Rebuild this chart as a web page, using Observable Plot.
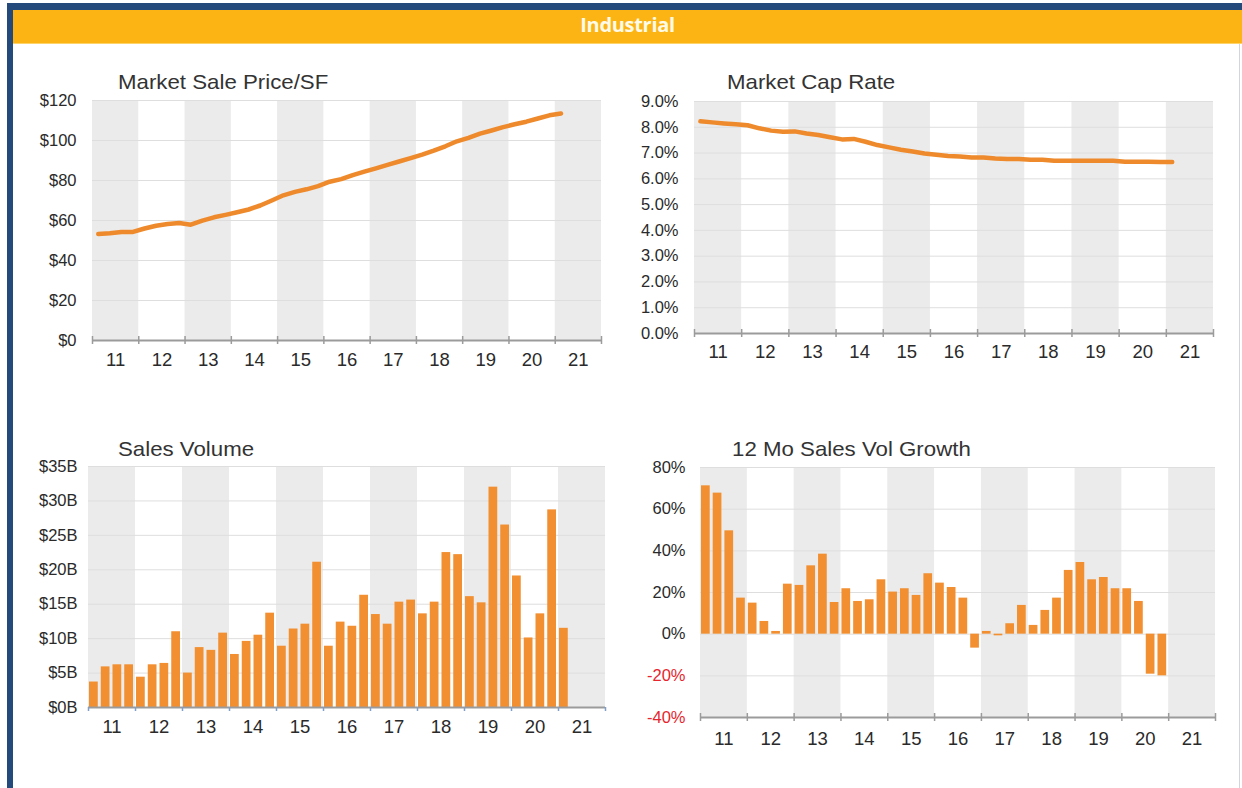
<!DOCTYPE html>
<html>
<head>
<meta charset="utf-8">
<script src="https://cdn.jsdelivr.net/npm/d3@7"></script>
<script src="https://cdn.jsdelivr.net/npm/@observablehq/plot@0.6"></script>
<style>
  body { margin: 0; background: #fff; }
  #page { position: relative; width: 1242px; height: 788px; overflow: hidden; background: #fff;
          font-family: "Liberation Sans", Arial, sans-serif; }
  .frameL { position: absolute; left: 7px; top: 3px; width: 6px; height: 785px; background: #24497b; }
  .frameT { position: absolute; left: 7px; top: 3px; width: 1235px; height: 7px; background: #24497b; }
  .frameR { position: absolute; left: 1239px; top: 44px; width: 1px; height: 744px; background: #cfd6e0; }
  .header { position: absolute; left: 13px; top: 10px; width: 1229px; height: 34px; background: #fcb415;
            border-bottom: 1px solid #fdd46a; box-sizing: border-box;
            color: #fffbe8; font: bold 20px "Open Sans", "DejaVu Sans", sans-serif; text-align: center; line-height: 30px;
            letter-spacing: -0.3px; }
  .title { position: absolute; font-size: 21px; color: #333; line-height: 24px; white-space: nowrap;
           transform: scaleX(1.06); transform-origin: left center; }
  .chart { position: absolute; }
</style>
</head>
<body>
<div id="page">
  <div class="frameT"></div>
  <div class="frameL"></div>
  <div class="frameR"></div>
  <div class="header">Industrial</div>
  <div class="title" style="left:118px;top:70px">Market Sale Price/SF</div>
  <div class="title" style="left:727px;top:70px">Market Cap Rate</div>
  <div class="title" style="left:118px;top:437px">Sales Volume</div>
  <div class="title" style="left:732px;top:437px">12 Mo Sales Vol Growth</div>
  <div id="c1" class="chart"></div>
  <div id="c2" class="chart"></div>
  <div id="c3" class="chart"></div>
  <div id="c4" class="chart"></div>
</div>
<script>
// ---------- data (quarterly, 2011 Q1 onward) ----------
const firstYear = 2011;
const xLabels = ["11", "12", "13", "14", "15", "16", "17", "18", "19", "20", "21"];

// Market Sale Price/SF ($), 2011Q1 - 2021Q1
const salePrice = [53.2, 53.6, 54.3, 54.3, 56.0, 57.4, 58.2, 58.7, 57.9, 59.9, 61.6, 62.8, 64.1, 65.5, 67.5, 70.0,
  72.6, 74.3, 75.6, 77.2, 79.4, 80.7, 82.7, 84.4, 86.1, 87.8, 89.5, 91.2, 92.9, 94.9, 97.1, 99.6,
  101.3, 103.4, 105.0, 106.7, 108.1, 109.4, 111.0, 112.6, 113.5];

// Market Cap Rate (%), 2011Q1 - 2021Q1
const capRate = [8.23, 8.19, 8.15, 8.12, 8.08, 7.96, 7.87, 7.83, 7.84, 7.76, 7.70, 7.61, 7.53, 7.55, 7.44, 7.31,
  7.22, 7.13, 7.06, 6.98, 6.93, 6.89, 6.87, 6.83, 6.83, 6.79, 6.77, 6.77, 6.74, 6.74, 6.70, 6.70,
  6.70, 6.70, 6.70, 6.70, 6.66, 6.66, 6.66, 6.65, 6.65];

// Sales Volume ($B), 2011Q1 - 2021Q1
const salesVolume = [3.7, 5.9, 6.2, 6.2, 4.4, 6.2, 6.4, 11.0, 5.0, 8.7, 8.3, 10.8, 7.7, 9.6, 10.5, 13.7,
  8.9, 11.4, 12.1, 21.1, 8.9, 12.4, 11.8, 16.3, 13.5, 12.1, 15.3, 15.6, 13.6, 15.3, 22.5, 22.2,
  16.1, 15.2, 32.0, 26.5, 19.1, 10.1, 13.6, 28.7, 11.5];

// 12 Mo Sales Vol Growth (%), 2011Q1 - 2020Q4
const volGrowth = [71.2, 67.7, 49.6, 17.3, 14.9, 6.1, 1.3, 24.0, 23.4, 32.8, 38.4, 15.2, 21.8, 15.7, 16.5, 26.1,
  20.2, 21.8, 18.6, 29.0, 24.5, 22.4, 17.3, -6.7, 1.3, -0.8, 5.0, 13.8, 4.2, 11.4, 17.3, 30.6,
  34.4, 26.1, 27.2, 21.8, 21.8, 15.7, -19.2, -20.0];

// tick values
const priceTicks = [0, 20, 40, 60, 80, 100, 120];
const capTicks = [0, 1, 2, 3, 4, 5, 6, 7, 8, 9];
const volumeTicks = [0, 5, 10, 15, 20, 25, 30, 35];
const growthTicks = [-40, -20, 0, 20, 40, 60, 80];

// ---------- helpers ----------
const years = xLabels.map((_, i) => firstYear + i);           // 2011..2021
const boundaries = [...years, firstYear + xLabels.length];     // 2011..2022
const shadedYears = years.filter((_, i) => i % 2 === 0);       // 11, 13, 15, ...
const yearMids = years.map(y => y + 0.5);

const quarterRows = arr => arr.map((v, i) => ({
  t0: firstYear + i / 4, t1: firstYear + (i + 1) / 4, tm: firstYear + i / 4 + 0.125, v
}));

const LINE = "#ee8a2b";
const BAR = "#f28f30";
const TEXT = "#2a2a2a";
const yLabelStyle = {tickSize: 0, fontSize: 16.5, stroke: TEXT, strokeWidth: 0.35, label: null};

function chart(el, box, plotRect, yDomain, yTicks, yFmt, dataMarks, opts = {}) {
  const [left, top, width, height] = box;
  const [px0, px1, py0, py1] = plotRect;
  const div = document.getElementById(el);
  div.style.left = left + "px";
  div.style.top = top + "px";
  const yMin = yDomain[0], yMax = yDomain[1];
  const axisMarks = opts.yAxisMarks || [
    Plot.axisY(yTicks, {...yLabelStyle, tickPadding: opts.yPad, tickFormat: yFmt, fill: TEXT})
  ];
  const tickColor = opts.tickColor || "#9b9b9b";
  const p = Plot.plot({
    width, height,
    marginLeft: px0 - left, marginRight: left + width - px1,
    marginTop: py0 - top, marginBottom: top + height - py1,
    x: {domain: [firstYear, firstYear + xLabels.length]},
    y: {domain: yDomain},
    style: {fontFamily: '"Liberation Sans", Arial, sans-serif', background: "transparent", overflow: "visible"},
    marks: [
      Plot.rect(shadedYears, {x1: d => d, x2: d => d + 1, y1: yMin, y2: yMax, fill: "#ebebeb"}),
      Plot.ruleY(yTicks, {stroke: "#dedede", strokeWidth: 1}),
      ...dataMarks,
      Plot.ruleY([yMin], {stroke: "#9b9b9b", strokeWidth: 2}),
      Plot.ruleX(boundaries, {y1: yMin, y2: yMin, insetTop: opts.tickUp ?? -4, insetBottom: -4, stroke: tickColor, strokeWidth: 1.5}),
      ...axisMarks,
      Plot.axisX(yearMids, {anchor: "bottom", tickSize: 0, tickPadding: opts.xPad,
        tickFormat: d => xLabels[Math.round(d - firstYear - 0.5)], fontSize: 18.5, fill: TEXT,
        stroke: TEXT, strokeWidth: 0.35, label: null})
    ]
  });
  div.appendChild(p);
}

// Chart 1: Market Sale Price/SF
chart("c1", [20, 90, 600, 300], [92, 601, 100, 340], [0, 120], priceTicks, d => "$" + d, [
  Plot.line(quarterRows(salePrice), {x: "tm", y: "v", stroke: LINE, strokeWidth: 4.5, strokeLinecap: "round", strokeLinejoin: "round"})
], {yPad: 16, xPad: 12});

// Chart 2: Market Cap Rate
chart("c2", [620, 90, 615, 290], [694, 1213, 101, 333], [0, 9], capTicks, d => d.toFixed(1) + "%", [
  Plot.line(quarterRows(capRate), {x: "tm", y: "v", stroke: LINE, strokeWidth: 4.5, strokeLinecap: "round", strokeLinejoin: "round"})
], {yPad: 16, xPad: 11});

// Chart 3: Sales Volume
chart("c3", [20, 455, 600, 300], [88, 605, 466, 707], [0, 35], volumeTicks, d => "$" + d + "B", [
  Plot.rect(quarterRows(salesVolume), {x1: "t0", x2: "t1", y1: 0, y2: "v", fill: BAR, insetLeft: 1, insetRight: 2})
], {yPad: 11, xPad: 12, tickColor: "#7f9fc8", tickUp: 0});

// Chart 4: 12 Mo Sales Vol Growth
chart("c4", [620, 455, 620, 310], [700, 1215, 467, 717], [-40, 80], growthTicks, d => d + "%", [
  Plot.rect(quarterRows(volGrowth), {x1: "t0", x2: "t1", y1: 0, y2: "v", fill: BAR, insetLeft: 1, insetRight: 2})
], {yPad: 15, xPad: 14, yAxisMarks: [
  Plot.axisY(growthTicks.filter(d => d >= 0), {...yLabelStyle, tickPadding: 15, tickFormat: d => d + "%", fill: TEXT}),
  Plot.axisY(growthTicks.filter(d => d < 0), {...yLabelStyle, tickPadding: 15, tickFormat: d => d + "%", fill: "#e8242c", stroke: "#e8242c"})
]});
</script>
</body>
</html>
